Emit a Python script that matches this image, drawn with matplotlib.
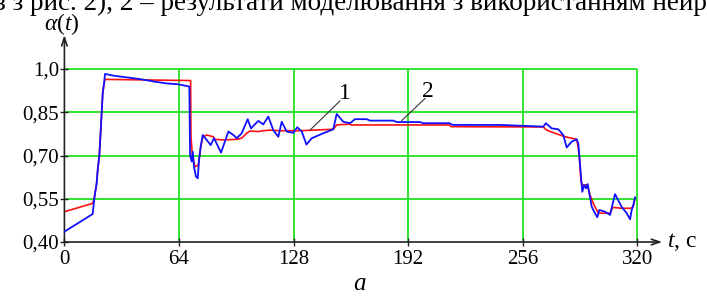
import matplotlib.pyplot as plt
import matplotlib as mpl

mpl.rcParams['font.family'] = ['Liberation Serif', 'DejaVu Serif']
mpl.rcParams['mathtext.fontset'] = 'custom'
mpl.rcParams['mathtext.rm'] = 'Liberation Serif'
mpl.rcParams['mathtext.it'] = 'Liberation Serif:italic'

# series 1 (red) - model
t1 = [0, 15.8, 16.7, 18, 18.6, 19.5, 20, 20.8, 21.4, 22.1, 22.7, 69.8, 70.5,
      70.7, 71.5, 72.9, 74.8, 76.1, 77.3, 79.5, 83.2, 84.1, 88.8, 96.3, 99,
      101.8, 103.7, 108.3, 111.1, 114.9, 120.4, 131.6, 150.2, 152.1, 159.6,
      160, 215, 216, 267.5, 269.4, 274.1, 279.7, 286.2, 287.5, 288.6, 289.5,
      292.1, 293.6, 295.9, 298.3, 304.8, 306.3, 311.3, 316.9, 317.8, 318.8]
a1 = [0.505, 0.534, 0.552, 0.603, 0.65, 0.70, 0.754, 0.846, 0.916, 0.948, 0.964,
      0.96, 0.96, 0.765, 0.70, 0.661, 0.667, 0.725, 0.765, 0.771, 0.765, 0.756,
      0.754, 0.756, 0.76, 0.777, 0.785, 0.783, 0.786, 0.788, 0.786, 0.786,
      0.791, 0.806, 0.809, 0.806, 0.806, 0.80, 0.799, 0.788, 0.777, 0.765,
      0.756, 0.708, 0.609, 0.598, 0.598, 0.563, 0.528, 0.50, 0.50, 0.52, 0.517,
      0.517, 0.525, 0.552]

# series 2 (blue) - neural network
t2 = [0, 15.8, 16.7, 18, 18.6, 19.5, 20, 20.8, 21.4, 22.1, 22.7, 27.3, 34.8,
      42.2, 50.6, 57.2, 63.6, 69.8, 70.2, 71.1, 71.7, 72.4, 73.5, 74.5, 75.2,
      76.1, 77.3, 79.5, 81.7, 83.6, 87.5, 91.6, 94.4, 96.3, 99, 102.4, 104.2,
      108.3, 111.1, 113.9, 116.7, 119.5, 121.4, 124.2, 127.9, 130.1, 132.6,
      135.2, 138.2, 144.6, 150.2, 152.1, 155.8, 159.6, 162.3, 168.9, 170.7,
      183.7, 185.6, 198.6, 200.5, 215, 217, 243.3, 260.1, 267.5, 269, 272.2,
      275.9, 278.7, 280.6, 283.4, 286.2, 287.1, 287.7, 288.6, 289.3, 290.4,
      291.4, 292.3, 293.6, 294.6, 296.4, 297.7, 298.8, 302, 304.8, 307.6,
      311.3, 314.1, 316, 316.9, 317.8, 318.8]
a2 = [0.436, 0.497, 0.552, 0.603, 0.65, 0.70, 0.754, 0.846, 0.916, 0.948, 0.983,
      0.977, 0.971, 0.965, 0.956, 0.950, 0.947, 0.939, 0.702, 0.679, 0.713,
      0.661, 0.627, 0.621, 0.684, 0.731, 0.771, 0.754, 0.736, 0.76, 0.71,
      0.783, 0.771, 0.76, 0.777, 0.826, 0.794, 0.82, 0.808, 0.835, 0.788,
      0.765, 0.817, 0.783, 0.779, 0.798, 0.783, 0.738, 0.76, 0.777, 0.791,
      0.844, 0.817, 0.812, 0.826, 0.826, 0.821, 0.821, 0.816, 0.816, 0.812,
      0.812, 0.806, 0.806, 0.802, 0.80, 0.812, 0.794, 0.791, 0.771, 0.728,
      0.748, 0.756, 0.742, 0.696, 0.627, 0.574, 0.598, 0.586, 0.601, 0.557,
      0.522, 0.50, 0.486, 0.511, 0.505, 0.494, 0.566, 0.522, 0.50, 0.479,
      0.511, 0.528, 0.555]

xticks = [0, 64, 128, 192, 256, 320]
yticks = [0.40, 0.55, 0.70, 0.85, 1.0]
ylabels = ['0,40', '0,55', '0,70', '0,85', '1,0']

fig = plt.figure(figsize=(7.07, 3.0), dpi=100)
ax = fig.add_axes([0.0911, 0.1933, 0.8102, 0.5767])
ax.set_xlim(0, 320)
ax.set_ylim(0.4, 1.0)
for s in ax.spines.values():
    s.set_visible(False)

gc = '#22e022'
ax.hlines(yticks[1:], 0, 320, color=gc, lw=1.3, clip_on=False, zorder=1)
ax.vlines(xticks[1:], 0.4, 1.0, color=gc, lw=1.3, clip_on=False, zorder=1)

ax.plot(t1, a1, color='#ff1010', lw=1.2, zorder=3)
ax.plot(t2, a2, color='#1010ff', lw=1.3, zorder=4)

# axes with arrows
ax.annotate('', xy=(334, 0.4), xytext=(0, 0.4), annotation_clip=False,
            arrowprops=dict(arrowstyle='->,head_length=0.6,head_width=0.2',
                            color='#222222', lw=1.2, shrinkA=0, shrinkB=0))
ax.annotate('', xy=(0, 1.118), xytext=(0, 0.4), annotation_clip=False,
            arrowprops=dict(arrowstyle='->,head_length=0.6,head_width=0.2',
                            color='#222222', lw=1.2, shrinkA=0, shrinkB=0))

ax.set_xticks(xticks)
ax.set_xticklabels([str(v) for v in xticks])
ax.set_yticks(yticks)
ax.set_yticklabels(ylabels)
ax.tick_params(direction='inout', length=6, width=1, color='#222222',
               labelsize=15, pad=1)
ax.tick_params(axis='x', pad=3)

ax.text(336.5, 0.4, '$t$, с', fontsize=17, ha='left', va='center')
ax.text(-1.3, 1.155, r'$\alpha(t)$', fontsize=17, ha='center', va='center')

# curve labels
ax.plot([137.2, 153.9], [0.788, 0.889], color='#333333', lw=0.8, zorder=5)
ax.plot([188.4, 201.5], [0.821, 0.898], color='#333333', lw=0.8, zorder=5)
ax.text(156.8, 0.916, '1', fontsize=17, ha='center', va='center')
ax.text(203.1, 0.922, '2', fontsize=17, ha='center', va='center')

fig.text(0.509, 0.055, 'а', fontsize=18, style='italic', ha='center', va='center')
fig.text(-0.007, 0.966, 'з з рис. 2), 2 – результати моделювання з використанням нейро',
         fontsize=19.5, ha='left', va='baseline')

fig.savefig('out.png', dpi=100)
